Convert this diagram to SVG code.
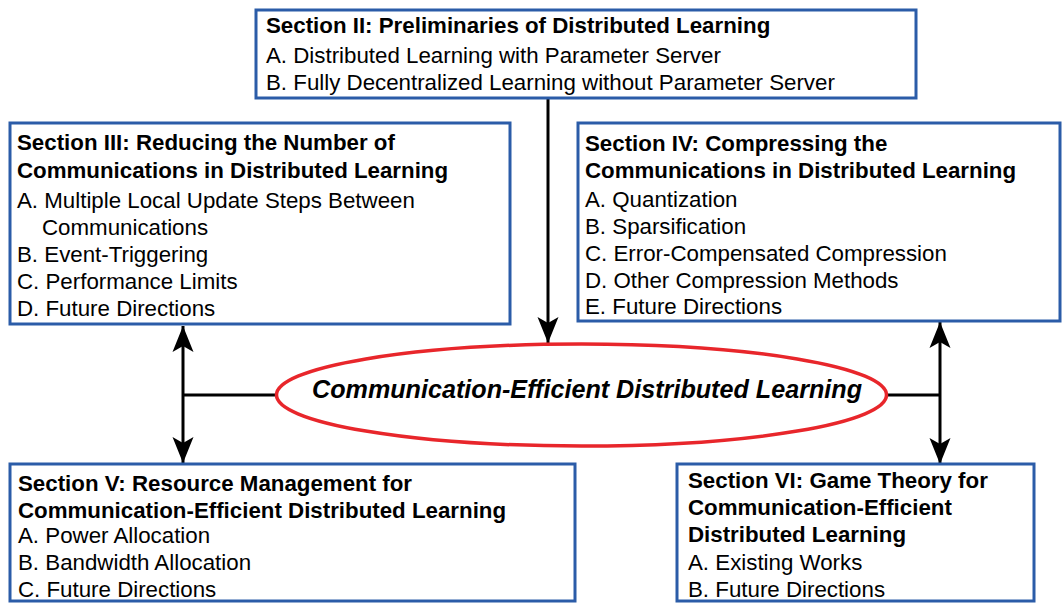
<svg xmlns="http://www.w3.org/2000/svg" width="1062" height="604" viewBox="0 0 1062 604">
  <defs>
    <style>
      .box { fill: #ffffff; stroke: #2b5ca8; stroke-width: 3; }
      .hd { font-family: "Liberation Sans", Arial, sans-serif; font-size: 22.3px; font-weight: bold; fill: #000; }
      .it { font-family: "Liberation Sans", Arial, sans-serif; font-size: 22.3px; fill: #000; }
      .core { fill: #ffffff; stroke: #e8262b; stroke-width: 3.5; }
      .core-label { font-family: "Liberation Sans", Arial, sans-serif; font-size: 26px; font-weight: bold; font-style: italic; fill: #000; }
      .link { fill: none; stroke: #000; stroke-width: 3; }
    </style>
    <marker id="head" viewBox="-27 -11 28 22" refX="0" refY="0" markerWidth="28" markerHeight="22" markerUnits="userSpaceOnUse" orient="auto-start-reverse">
      <path d="M0,0 L-26,-10.5 L-20,0 L-26,10.5 Z" fill="#000"/>
    </marker>
  </defs>

  <!-- connectors -->
  <g id="connectors">
    <line class="link" x1="548" y1="98" x2="548" y2="343" marker-end="url(#head)"/>
    <line class="link" x1="183" y1="326" x2="183" y2="463" marker-start="url(#head)" marker-end="url(#head)"/>
    <line class="link" x1="183" y1="395" x2="277" y2="395"/>
    <line class="link" x1="940" y1="322" x2="940" y2="464" marker-start="url(#head)" marker-end="url(#head)"/>
    <line class="link" x1="886" y1="395" x2="940" y2="395"/>
  </g>

  <!-- Section II -->
  <g id="sec2">
    <rect class="box" x="256" y="10" width="660" height="88"/>
    <text class="hd" x="266" y="33">Section II: Preliminaries of Distributed Learning</text>
    <text class="it" x="266" y="63">A. Distributed Learning with Parameter Server</text>
    <text class="it" x="266" y="90">B. Fully Decentralized Learning without Parameter Server</text>
  </g>

  <!-- Section III -->
  <g id="sec3">
    <rect class="box" x="10" y="123" width="500" height="201"/>
    <text class="hd" x="17" y="150">Section III: Reducing the Number of</text>
    <text class="hd" x="17" y="178">Communications in Distributed Learning</text>
    <text class="it" x="17" y="208">A. Multiple Local Update Steps Between</text>
    <text class="it" x="42" y="235">Communications</text>
    <text class="it" x="17" y="262">B. Event-Triggering</text>
    <text class="it" x="17" y="289">C. Performance Limits</text>
    <text class="it" x="17" y="316">D. Future Directions</text>
  </g>

  <!-- Section IV -->
  <g id="sec4">
    <rect class="box" x="578" y="123" width="482" height="198"/>
    <text class="hd" x="585" y="151">Section IV: Compressing the</text>
    <text class="hd" x="585" y="178">Communications in Distributed Learning</text>
    <text class="it" x="585" y="207">A. Quantization</text>
    <text class="it" x="585" y="234">B. Sparsification</text>
    <text class="it" x="585" y="261">C. Error-Compensated Compression</text>
    <text class="it" x="585" y="288">D. Other Compression Methods</text>
    <text class="it" x="585" y="314">E. Future Directions</text>
  </g>

  <!-- central topic -->
  <g id="core">
    <ellipse class="core" cx="581.5" cy="395" rx="305" ry="51"/>
    <text class="core-label" x="587" y="398" text-anchor="middle" textLength="550" lengthAdjust="spacingAndGlyphs">Communication-Efficient Distributed Learning</text>
  </g>

  <!-- Section V -->
  <g id="sec5">
    <rect class="box" x="10" y="464" width="565" height="137"/>
    <text class="hd" x="18" y="491">Section V: Resource Management for</text>
    <text class="hd" x="18" y="518">Communication-Efficient Distributed Learning</text>
    <text class="it" x="18" y="543">A. Power Allocation</text>
    <text class="it" x="18" y="570">B. Bandwidth Allocation</text>
    <text class="it" x="18" y="597">C. Future Directions</text>
  </g>

  <!-- Section VI -->
  <g id="sec6">
    <rect class="box" x="677" y="464" width="357" height="137"/>
    <text class="hd" x="688" y="488">Section VI: Game Theory for</text>
    <text class="hd" x="688" y="515">Communication-Efficient</text>
    <text class="hd" x="688" y="542">Distributed Learning</text>
    <text class="it" x="688" y="570">A. Existing Works</text>
    <text class="it" x="688" y="597">B. Future Directions</text>
  </g>
</svg>
